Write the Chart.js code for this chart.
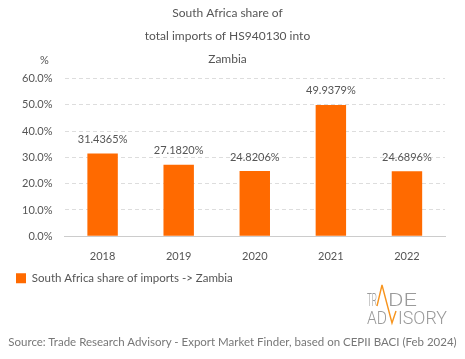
<!DOCTYPE html>
<html>
<head>
<meta charset="utf-8">
<script src="https://cdn.jsdelivr.net/npm/chart.js@4"></script>
<style>
  html, body { margin: 0; padding: 0; background: #fff; }
  #wrap { position: relative; width: 465px; height: 359px; overflow: hidden; font-family: Lato, sans-serif; }
  #chart { position: absolute; left: 0; top: 0; }
  .unit { position: absolute; left: 40px; top: 53px; font-size: 11px; color: #555; }
  .source { position: absolute; left: 0; width: 465px; top: 335px; text-align: center; font-size: 11.5px; color: #777; white-space: nowrap; }
  .logo { position: absolute; left: 360px; top: 283px; }
</style>
</head>
<body>
<div id="wrap">
  <canvas id="chart" width="465" height="359"></canvas>
  <div class="unit">%</div>
  <svg class="logo" width="100" height="50" viewBox="0 0 100 50">
    <g font-family="Roboto, sans-serif" font-weight="300" fill="#9a9a9a" font-size="18">
      <text x="7" y="23" textLength="10" lengthAdjust="spacingAndGlyphs">TR</text>
      <text x="28" y="23" textLength="29" lengthAdjust="spacingAndGlyphs">DE</text>
      <text x="7" y="41" textLength="20" lengthAdjust="spacingAndGlyphs">AD</text>
      <text x="38" y="41" textLength="49" lengthAdjust="spacingAndGlyphs">ISORY</text>
    </g>
    <polyline points="17,23 22,2 32,40 36,28" fill="none" stroke="#f7941d" stroke-width="1.4"/>
  </svg>
  <div class="source">Source: Trade Research Advisory - Export Market Finder, based on CEPII BACI (Feb 2024)</div>
</div>
<script>
// Chart data
const years = ['2018', '2019', '2020', '2021', '2022'];
const shareValues = [31.4365, 27.1820, 24.8206, 49.9379, 24.6896];
const yTicks = [0, 10, 20, 30, 40, 50, 60];
const seriesLabel = 'South Africa share of imports -> Zambia';
const titleLines = ['South Africa share of', 'total imports of HS940130 into', 'Zambia'];

// Draw the value above each bar
const valueLabels = {
  id: 'valueLabels',
  afterLayout(chart) {
    // nudge legend a bit to the right and down
    if (chart.legend) {
      chart.legend.left += 6;
      chart.legend.top += 3;
    }
  },
  afterDatasetsDraw(chart) {
    const ctx = chart.ctx;
    const meta = chart.getDatasetMeta(0);
    ctx.save();
    ctx.font = '11px Lato, sans-serif';
    ctx.fillStyle = '#555';
    ctx.textAlign = 'center';
    ctx.textBaseline = 'middle';
    meta.data.forEach((bar, i) => {
      ctx.fillText(shareValues[i].toFixed(4) + '%', bar.x, bar.y - 14);
    });
    ctx.restore();
  }
};

new Chart(document.getElementById('chart'), {
  type: 'bar',
  data: {
    labels: years,
    datasets: [{
      label: seriesLabel,
      data: shareValues,
      backgroundColor: '#ff6a00',
      categoryPercentage: 0.8,
      barPercentage: 0.5
    }]
  },
  options: {
    responsive: false,
    animation: false,
    layout: { padding: { left: 10, right: 20, top: 0, bottom: 68 } },
    scales: {
      x: {
        grid: { display: false },
        border: { color: '#ccc' },
        ticks: { color: '#555', font: { family: 'Lato', size: 11 }, padding: 6 }
      },
      y: {
        min: 0,
        max: 60,
        afterBuildTicks: axis => { axis.ticks = yTicks.map(v => ({ value: v })); },
        grid: { color: '#ddd', drawTicks: false },
        border: { display: false, dash: [4, 3] },
        ticks: {
          color: '#555',
          font: { family: 'Lato', size: 11 },
          padding: 12,
          callback: v => v.toFixed(1) + '%'
        }
      }
    },
    plugins: {
      title: {
        display: true,
        text: titleLines,
        color: '#555',
        font: { family: 'Lato', size: 12, weight: 'normal', lineHeight: 1.9 },
        padding: { top: 2, bottom: 8 }
      },
      legend: {
        position: 'bottom',
        align: 'start',
        labels: {
          color: '#555',
          font: { family: 'Lato', size: 11.5 },
          boxWidth: 10,
          boxHeight: 10,
          padding: 0
        }
      },
      tooltip: { enabled: false }
    }
  },
  plugins: [valueLabels]
});
</script>
</body>
</html>
